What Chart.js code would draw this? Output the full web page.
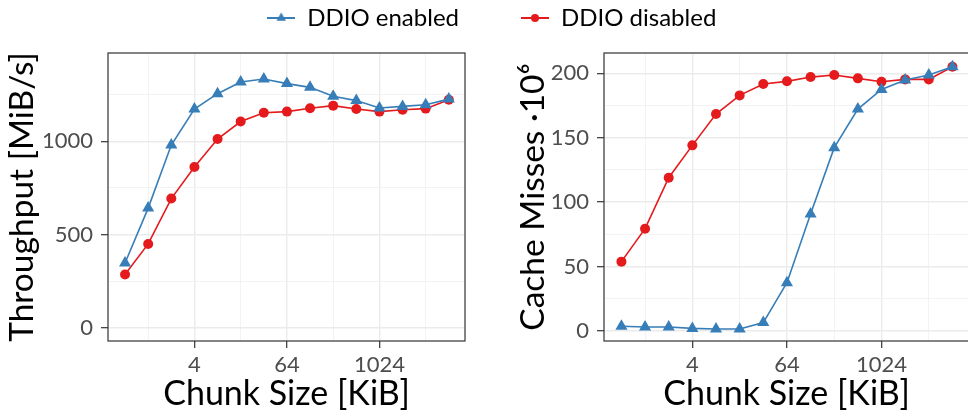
<!DOCTYPE html>
<html>
<head>
<meta charset="utf-8">
<script src="https://cdn.jsdelivr.net/npm/chart.js@4"></script>
<style>
  html, body { margin: 0; padding: 0; background: #fff; overflow: hidden; }
  #page { position: relative; width: 968px; height: 413px; overflow: hidden; }
  #tput-wrap { position: absolute; left: 0; top: 0; width: 484px; height: 413px; }
  #miss-wrap { position: absolute; left: 484px; top: 0; width: 492px; height: 413px; }
  canvas { display: block; }
</style>
</head>
<body>
<div id="page">
  <div id="tput-wrap"><canvas id="tput-chart" width="484" height="413" style="width:484px;height:413px"></canvas></div>
  <div id="miss-wrap"><canvas id="miss-chart" width="492" height="413" style="width:492px;height:413px"></canvas></div>
</div>
<script>
// chunk sizes in KiB (powers of two)
const chunkSizes = [0.5, 1, 2, 4, 8, 16, 32, 64, 128, 256, 512, 1024, 2048, 4096, 8192];

// throughput in MiB/s
const tputEnabled  = [348, 642, 980, 1173, 1255, 1318, 1334, 1309, 1289, 1241, 1218, 1178, 1187, 1196, 1226];
const tputDisabled = [286, 450, 693, 862, 1012, 1106, 1153, 1159, 1177, 1191, 1173, 1159, 1169, 1175, 1223];

// cache misses, in millions
const missEnabled  = [3.6, 3.1, 3.1, 2.0, 1.5, 1.5, 6.5, 37.5, 90.8, 142.3, 172.3, 187.5, 194.8, 198.7, 205.1];
const missDisabled = [53.8, 79.4, 119.0, 144.1, 168.4, 182.9, 191.7, 193.8, 197.1, 198.7, 196.1, 193.5, 195.3, 195.3, 205.1];

const seriesNames = ['DDIO enabled', 'DDIO disabled'];

// axis ticks; labelled ones are major, the rest only get a grid line
const xTicks = [1, 4, 16, 64, 256, 1024, 4096];
const xMajor = [4, 64, 1024];
const tputTicks = [0, 250, 500, 750, 1000, 1250];
const tputMajor = [0, 500, 1000];
const missTicks = [0, 25, 50, 75, 100, 125, 150, 175, 200];
const missMajor = [0, 50, 100, 150, 200];

const BLUE = '#377eb8';
const RED = '#e41a1c';
const FONT = "Lato, 'Open Sans', sans-serif";

Chart.defaults.font.family = FONT;
Chart.defaults.animation = false;

// small line+marker icons for the legend
function legendIcon(color, shape) {
    const c = document.createElement('canvas');
    c.width = 28;
    c.height = 14;
    const g = c.getContext('2d');
    g.strokeStyle = color;
    g.fillStyle = color;
    g.lineWidth = 2;
    g.beginPath();
    g.moveTo(0, 7);
    g.lineTo(28, 7);
    g.stroke();
    g.beginPath();
    if (shape === 'triangle') {
        const r = 5.5;
        g.moveTo(14, 7 - r);
        g.lineTo(14 + r * 0.866, 7 + r / 2);
        g.lineTo(14 - r * 0.866, 7 + r / 2);
        g.closePath();
    } else {
        g.arc(14, 7, 4, 0, Math.PI * 2);
    }
    g.fill();
    return c;
}
const legendIcons = [legendIcon(BLUE, 'triangle'), legendIcon(RED, 'circle')];

// full dark frame round the plotting panel
const panelBorder = {
    id: 'panelBorder',
    afterDraw(chart) {
        const {ctx, chartArea: a} = chart;
        ctx.save();
        ctx.strokeStyle = '#333333';
        ctx.lineWidth = 1.2;
        ctx.strokeRect(a.left, a.top, a.right - a.left, a.bottom - a.top);
        ctx.restore();
    }
};

function isMajor(ctx) {
    return ctx.tick && ctx.tick.major;
}

function gridOpts() {
    return {
        color: ctx => isMajor(ctx) ? '#ebebeb' : '#f2f2f2',
        lineWidth: ctx => isMajor(ctx) ? 1.4 : 0.9,
        tickColor: ctx => isMajor(ctx) ? '#333333' : 'rgba(0,0,0,0)',
        tickWidth: 1.2,
        tickLength: 7,
        drawTicks: true
    };
}

function setTicks(values, majors) {
    return scale => {
        scale.ticks = values.map(v => ({value: v, major: majors.includes(v)}));
    };
}

function majorLabel(value, index, ticks) {
    return ticks[index].major ? String(value) : '';
}

function makeDatasets(enabled, disabled) {
    return [
        {
            label: seriesNames[0],
            data: enabled,
            borderColor: BLUE,
            backgroundColor: BLUE,
            borderWidth: 1.6,
            pointStyle: 'triangle',
            pointRadius: 7,
            pointBorderWidth: 0,
            tension: 0
        },
        {
            label: seriesNames[1],
            data: disabled,
            borderColor: RED,
            backgroundColor: RED,
            borderWidth: 1.6,
            pointStyle: 'circle',
            pointRadius: 5,
            pointBorderWidth: 0,
            tension: 0
        }
    ];
}

function makeChart(canvasId, opts) {
    return new Chart(document.getElementById(canvasId), {
        type: 'line',
        data: {
            labels: chunkSizes,
            datasets: makeDatasets(opts.enabled, opts.disabled)
        },
        options: {
            responsive: false,
            layout: {padding: opts.padding},
            plugins: {
                tooltip: {enabled: false},
                legend: {
                    display: true,
                    position: 'top',
                    align: opts.legendAlign,
                    labels: {
                        usePointStyle: true,
                        pointStyleWidth: 28,
                        padding: 6,
                        color: '#000',
                        font: {size: 24, family: FONT},
                        generateLabels: chart => chart.data.datasets.map((ds, i) => ({
                            text: ds.label,
                            pointStyle: legendIcons[i],
                            fillStyle: ds.borderColor,
                            strokeStyle: ds.borderColor,
                            lineWidth: 0,
                            hidden: false,
                            datasetIndex: i
                        })),
                        filter: item => item.datasetIndex === opts.legendIndex
                    }
                },
                // blank strip between the legend and the panel
                subtitle: {
                    display: true,
                    text: '',
                    weight: 500,
                    font: {size: 10},
                    padding: {top: 0, bottom: 1}
                }
            },
            scales: {
                x: {
                    type: 'logarithmic',
                    min: Math.pow(2, -1.7),
                    max: Math.pow(2, 13.7),
                    afterBuildTicks: setTicks(xTicks, xMajor),
                    afterFit: scale => { scale.height = 72; },
                    border: {display: false},
                    grid: gridOpts(),
                    ticks: {
                        autoSkip: false,
                        maxRotation: 0,
                        padding: 4,
                        color: '#4d4d4d',
                        font: {size: 22},
                        callback: majorLabel
                    },
                    title: {
                        display: true,
                        text: 'Chunk Size [KiB]',
                        color: '#000',
                        font: {size: 34, lineHeight: 1},
                        padding: {top: 0, bottom: 2}
                    }
                },
                y: {
                    type: 'linear',
                    min: opts.yMin,
                    max: opts.yMax,
                    afterBuildTicks: setTicks(opts.yTicks, opts.yMajor),
                    afterFit: scale => { scale.width = opts.yWidth; },
                    border: {display: false},
                    grid: gridOpts(),
                    ticks: {
                        padding: 8,
                        color: '#4d4d4d',
                        font: {size: 22},
                        callback: majorLabel
                    },
                    title: {
                        display: true,
                        text: opts.yTitle,
                        color: '#000',
                        font: {size: 33.5, lineHeight: 1},
                        padding: {top: opts.yTitlePad, bottom: 0}
                    }
                }
            }
        },
        plugins: [panelBorder]
    });
}

makeChart('tput-chart', {
    enabled: tputEnabled,
    disabled: tputDisabled,
    yMin: -70,
    yMax: 1473,
    yTicks: tputTicks,
    yMajor: tputMajor,
    yTitle: 'Throughput [MiB/s]',
    yTitlePad: 5,
    yWidth: 108,
    padding: {left: 0, right: 19, top: 0, bottom: 0},
    legendAlign: 'end',
    legendIndex: 0
});

makeChart('miss-chart', {
    enabled: missEnabled,
    disabled: missDisabled,
    yMin: -7.8,
    yMax: 215.8,
    yTicks: missTicks,
    yMajor: missMajor,
    yTitle: 'Cache Misses ·10⁶',
    yTitlePad: 1,
    yWidth: 89,
    padding: {left: 31, right: 1, top: 0, bottom: 0},
    legendAlign: 'start',
    legendIndex: 1
});
</script>
</body>
</html>
